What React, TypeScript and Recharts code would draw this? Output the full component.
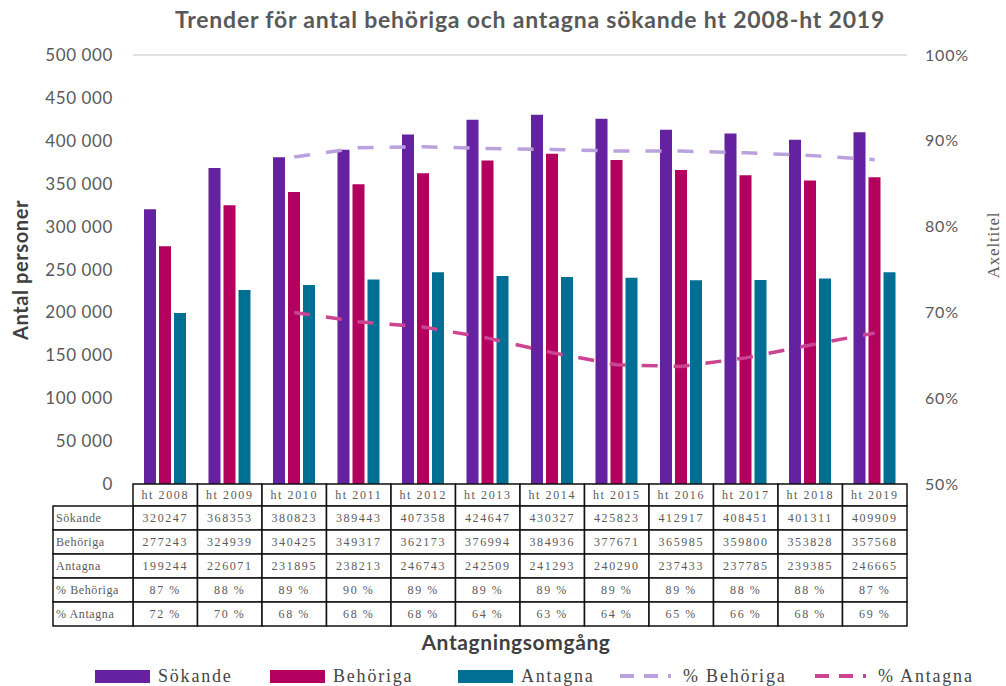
import React from 'react';
import { ComposedChart, Bar, Line, XAxis, YAxis, CartesianGrid } from 'recharts';

const categories = ['ht 2008', 'ht 2009', 'ht 2010', 'ht 2011', 'ht 2012', 'ht 2013', 'ht 2014', 'ht 2015', 'ht 2016', 'ht 2017', 'ht 2018', 'ht 2019'];
const sokande = [320247, 368353, 380823, 389443, 407358, 424647, 430327, 425823, 412917, 408451, 401311, 409909];
const behoriga = [277243, 324939, 340425, 349317, 362173, 376994, 384936, 377671, 365985, 359800, 353828, 357568];
const antagna = [199244, 226071, 231895, 238213, 246743, 242509, 241293, 240290, 237433, 237785, 239385, 246665];
// percentages as printed in the data table
const pctBehorigaText = ['87 %', '88 %', '89 %', '90 %', '89 %', '89 %', '89 %', '89 %', '89 %', '88 %', '88 %', '87 %'];
const pctAntagnaText = ['72 %', '70 %', '68 %', '68 %', '68 %', '64 %', '63 %', '64 %', '65 %', '66 %', '68 %', '69 %'];
// percentages as drawn by the dashed lines
const pctBehorigaLine = [null, null, 0.881, 0.892, 0.893, 0.891, 0.89, 0.888, 0.888, 0.886, 0.883, 0.878];
const pctAntagnaLine = [null, null, 0.7, 0.689, 0.683, 0.67, 0.653, 0.639, 0.637, 0.647, 0.662, 0.676];

const leftTicks = [0, 50000, 100000, 150000, 200000, 250000, 300000, 350000, 400000, 450000, 500000];
const rightTicks = [0.5, 0.6, 0.7, 0.8, 0.9, 1.0];

const C_SOK = '#6421a0';
const C_BEH = '#b3005e';
const C_ANT = '#006f93';
const C_PB = '#b9a2dd';
const C_PA = '#cc4592';

const data = categories.map((c, i) => ({
  name: c,
  sokande: sokande[i],
  behoriga: behoriga[i],
  antagna: antagna[i],
  pctBeh: pctBehorigaLine[i],
  pctAnt: pctAntagnaLine[i],
}));

const tableRows = [
  { label: 'Sökande', values: sokande.map(String) },
  { label: 'Behöriga', values: behoriga.map(String) },
  { label: 'Antagna', values: antagna.map(String) },
  { label: '% Behöriga', values: pctBehorigaText },
  { label: '% Antagna', values: pctAntagnaText },
];

const legendItems = [
  { kind: 'bar', color: C_SOK, label: 'Sökande', left: 95 },
  { kind: 'bar', color: C_BEH, label: 'Behöriga', left: 270 },
  { kind: 'bar', color: C_ANT, label: 'Antagna', left: 458 },
  { kind: 'line', color: C_PB, label: '% Behöriga', left: 618 },
  { kind: 'line', color: C_PA, label: '% Antagna', left: 813 },
];

const TABLE_TOP = 484;
const HEAD_H = 22;
const ROW_H = 24;
const LABEL_W = 80;
const tableFont = { fontFamily: '"Liberation Serif", serif', fontSize: 12, letterSpacing: 1.6, fill: '#5a5a5a' };

function fmt(v: number) {
  return String(v).replace(/\B(?=(\d{3})+(?!\d))/g, ' ');
}

function TableTick(props: any) {
  const { x, payload, index } = props;
  const i = payload.index ?? index;
  const w = 774 / categories.length;
  const left = x - w / 2;
  const cells: React.ReactNode[] = [];
  cells.push(
    <g key="h">
      <rect x={left} y={TABLE_TOP} width={w} height={HEAD_H} fill="#fff" stroke="#111" strokeWidth={1.5} />
      <text x={x} y={TABLE_TOP + 15} textAnchor="middle" {...tableFont}>{payload.value}</text>
    </g>
  );
  tableRows.forEach((r, ri) => {
    const top = TABLE_TOP + HEAD_H + ri * ROW_H;
    cells.push(
      <g key={ri}>
        <rect x={left} y={top} width={w} height={ROW_H} fill="#fff" stroke="#111" strokeWidth={1.5} />
        <text x={x} y={top + 16} textAnchor="middle" {...tableFont}>{r.values[i]}</text>
        {i === 0 && (
          <>
            <rect x={left - LABEL_W} y={top} width={LABEL_W} height={ROW_H} fill="#fff" stroke="#111" strokeWidth={1.5} />
            <text x={left - LABEL_W + 3} y={top + 16} {...tableFont} letterSpacing={0.6}>{r.label}</text>
          </>
        )}
      </g>
    );
  });
  return <g>{cells}</g>;
}

function LegendItem({ kind, color, label, left }: { kind: string; color: string; label: string; left: number }) {
  return (
    <div style={{ position: 'absolute', left, top: 0, height: 24, display: 'flex', alignItems: 'center', whiteSpace: 'nowrap' }}>
      {kind === 'bar' ? (
        <div style={{ width: 55, height: 13, background: color, marginRight: 8 }} />
      ) : (
        <svg width={55} height={12} style={{ marginRight: 10 }}>
          <line x1={2} y1={6} x2={53} y2={6} stroke={color} strokeWidth={4} strokeDasharray="14 10" />
        </svg>
      )}
      <span style={{ fontFamily: '"Liberation Serif", serif', fontSize: 18, lineHeight: '24px', letterSpacing: 1.8, color: '#444' }}>{label}</span>
    </div>
  );
}

export default function App() {
  return (
    <div style={{ position: 'absolute', left: 0, top: 0, width: 1006, height: 686, background: '#fff', overflow: 'hidden' }}>
      <div style={{ position: 'absolute', left: 0, top: 5, width: 1060, textAlign: 'center', fontFamily: 'Lato, sans-serif', fontWeight: 700, fontSize: 23, color: '#595959', letterSpacing: 0.8, whiteSpace: 'nowrap' }}>
        Trender för antal behöriga och antagna sökande ht 2008-ht 2019
      </div>
      <ComposedChart
        width={1006}
        height={686}
        data={data}
        margin={{ top: 55, right: 0, left: 0, bottom: 60 }}
        barSize={12}
        barGap={3}
      >
        <CartesianGrid vertical={false} stroke="#d9d9d9" strokeWidth={1.5} />
        <XAxis dataKey="name" height={142} axisLine={false} tickLine={false} interval={0} tick={<TableTick />} />
        <YAxis
          yAxisId="left"
          width={133}
          domain={[0, 500000]}
          ticks={leftTicks}
          tickFormatter={fmt}
          axisLine={false}
          tickLine={false}
          tickMargin={14}
          tick={{ fill: '#595959', fontSize: 17, fontFamily: 'Lato, sans-serif', letterSpacing: 0.6 }}
        />
        <YAxis
          yAxisId="right"
          orientation="right"
          width={99}
          domain={[0.5, 1]}
          ticks={rightTicks}
          tickFormatter={(v: number) => `${Math.round(v * 100)}%`}
          axisLine={false}
          tickLine={false}
          tickMargin={12}
          tick={{ fill: '#595959', fontSize: 16, fontFamily: 'Lato, sans-serif', letterSpacing: 0.8 }}
        />
        <Bar yAxisId="left" dataKey="sokande" name="Sökande" fill={C_SOK} isAnimationActive={false} />
        <Bar yAxisId="left" dataKey="behoriga" name="Behöriga" fill={C_BEH} isAnimationActive={false} />
        <Bar yAxisId="left" dataKey="antagna" name="Antagna" fill={C_ANT} isAnimationActive={false} />
        <Line yAxisId="right" dataKey="pctBeh" name="% Behöriga" stroke={C_PB} strokeWidth={3.5} strokeDasharray="16 16" dot={false} isAnimationActive={false} />
        <Line yAxisId="right" dataKey="pctAnt" name="% Antagna" stroke={C_PA} strokeWidth={3.5} strokeDasharray="16 16" dot={false} isAnimationActive={false} />
      </ComposedChart>
      <div style={{ position: 'absolute', left: 20, top: 270, transform: 'translate(-50%, -50%) rotate(-90deg)', whiteSpace: 'nowrap', fontFamily: 'Lato, sans-serif', fontWeight: 700, fontSize: 20, color: '#404040', letterSpacing: 0.6 }}>
        Antal personer
      </div>
      <div style={{ position: 'absolute', left: 994, top: 245, transform: 'translate(-50%, -50%) rotate(-90deg)', whiteSpace: 'nowrap', fontFamily: '"Liberation Serif", serif', fontSize: 17, color: '#595959', letterSpacing: 0.8 }}>
        Axeltitel
      </div>
      <div style={{ position: 'absolute', left: 0, top: 629, width: 1032, textAlign: 'center', fontFamily: 'Lato, sans-serif', fontWeight: 700, fontSize: 21, color: '#404040', letterSpacing: 0.6, whiteSpace: 'nowrap' }}>
        Antagningsomgång
      </div>
      <div style={{ position: 'absolute', left: 0, top: 664, width: 1006, height: 24 }}>
        {legendItems.map((l) => (
          <LegendItem key={l.label} kind={l.kind} color={l.color} label={l.label} left={l.left} />
        ))}
      </div>
    </div>
  );
}
